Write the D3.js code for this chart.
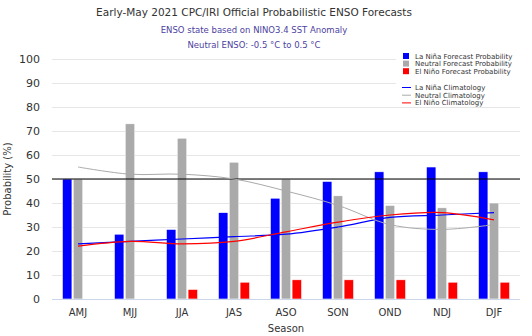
<!DOCTYPE html>
<html>
<head>
<meta charset="utf-8">
<script src="https://cdn.jsdelivr.net/npm/d3@7"></script>
<style>
  body { margin: 0; background: #fff; }
  text { font-family: "DejaVu Sans", sans-serif; }
</style>
</head>
<body>
<div id="chart"></div>
<script>
// Chart size
const width = 532;
const height = 336;
const margin = { top: 59, right: 12, bottom: 37, left: 52 };

// Data
const seasons = ["AMJ", "MJJ", "JJA", "JAS", "ASO", "SON", "OND", "NDJ", "DJF"];
const laNina = [50, 27, 29, 36, 42, 49, 53, 55, 53];
const neutral = [50, 73, 67, 57, 50, 43, 39, 38, 40];
const elNino = [0, 0, 4, 7, 8, 8, 8, 7, 7];
const laNinaClim = [23, 24, 25, 26, 27, 30, 34, 35, 36];
const neutralClim = [55, 52, 52, 50, 45, 39, 31, 29, 31];
const elNinoClim = [22, 24, 23, 24, 28, 32, 35, 36, 33];
const yTicks = [0, 10, 20, 30, 40, 50, 60, 70, 80, 90, 100];

const barSeries = [
    { name: "La Niña Forecast Probability", values: laNina, color: "#0000ff" },
    { name: "Neutral Forecast Probability", values: neutral, color: "#aaaaaa" },
    { name: "El Niño Forecast Probability", values: elNino, color: "#ff0000" }
];
const lineSeries = [
    { name: "La Niña Climatology", values: laNinaClim, color: "#0000ff" },
    { name: "Neutral Climatology", values: neutralClim, color: "#aaaaaa" },
    { name: "El Niño Climatology", values: elNinoClim, color: "#ff0000" }
];

const svg = d3.select("#chart").append("svg")
    .attr("width", width)
    .attr("height", height);

const x = d3.scaleBand()
    .domain(seasons)
    .range([margin.left, width - margin.right]);

const y = d3.scaleLinear()
    .domain([0, 100])
    .range([height - margin.bottom, margin.top]);

// Inner band for the three bars in each group
const xInner = d3.scaleBand()
    .domain(d3.range(barSeries.length))
    .range([0, x.bandwidth() * 0.6])
    .paddingInner(0.12);

// Horizontal grid lines
svg.append("g")
    .selectAll("line")
    .data(yTicks.filter(d => d > 0))
    .enter().append("line")
    .attr("x1", margin.left)
    .attr("x2", width - margin.right)
    .attr("y1", d => Math.round(y(d)) + 0.5)
    .attr("y2", d => Math.round(y(d)) + 0.5)
    .attr("stroke", "#e6e6e6")
    .attr("stroke-width", 1);

// Y axis labels
svg.append("g")
    .selectAll("text")
    .data(yTicks)
    .enter().append("text")
    .attr("x", margin.left - 12)
    .attr("y", d => y(d) + 4)
    .attr("text-anchor", "end")
    .attr("font-size", 11)
    .attr("fill", "#333")
    .text(d => d);

// Bars
const groups = svg.append("g")
    .selectAll("g")
    .data(barSeries)
    .enter().append("g")
    .attr("fill", d => d.color);

groups.selectAll("rect")
    .data((s, si) => s.values.map((v, i) => ({ v, season: seasons[i], si })))
    .enter().append("rect")
    .attr("x", d => x(d.season) + x.bandwidth() * 0.2 + xInner(d.si))
    .attr("width", xInner.bandwidth())
    .attr("y", d => y(d.v))
    .attr("height", d => y(0) - y(d.v))
    .attr("stroke", "#ffffff")
    .attr("stroke-width", 0.6);

// X axis baseline
svg.append("line")
    .attr("x1", margin.left)
    .attr("x2", width - margin.right)
    .attr("y1", y(0) + 0.5)
    .attr("y2", y(0) + 0.5)
    .attr("stroke", "#ccd6eb");

// 50% reference line
svg.append("line")
    .attr("x1", margin.left)
    .attr("x2", width - margin.right)
    .attr("y1", y(50))
    .attr("y2", y(50))
    .attr("stroke", "#000")
    .attr("stroke-width", 1.2);

// Climatology curves
const line = d3.line()
    .x((d, i) => x(seasons[i]) + x.bandwidth() / 2)
    .y(d => y(d))
    .curve(d3.curveCatmullRom.alpha(0.5));

svg.append("g")
    .selectAll("path")
    .data(lineSeries)
    .enter().append("path")
    .attr("d", d => line(d.values))
    .attr("fill", "none")
    .attr("stroke", d => d.color)
    .attr("stroke-width", d => d.color === "#aaaaaa" ? 1 : 1.2);

// X axis labels
svg.append("g")
    .selectAll("text")
    .data(seasons)
    .enter().append("text")
    .attr("x", d => x(d) + x.bandwidth() / 2)
    .attr("y", y(0) + 17)
    .attr("text-anchor", "middle")
    .attr("font-size", 10)
    .attr("fill", "#333")
    .text(d => d);

// Axis titles
svg.append("text")
    .attr("x", (margin.left + width - margin.right) / 2)
    .attr("y", height - 4)
    .attr("text-anchor", "middle")
    .attr("font-size", 10)
    .attr("fill", "#333")
    .text("Season");

svg.append("text")
    .attr("transform", `translate(11,${y(50)}) rotate(-90)`)
    .attr("text-anchor", "middle")
    .attr("font-size", 10)
    .attr("fill", "#333")
    .text("Probability (%)");

// Titles
svg.append("text")
    .attr("x", 254)
    .attr("y", 16)
    .attr("text-anchor", "middle")
    .attr("font-size", 10.5)
    .attr("fill", "#333")
    .text("Early-May 2021 CPC/IRI Official Probabilistic ENSO Forecasts");

svg.append("text")
    .attr("x", 254)
    .attr("y", 33)
    .attr("text-anchor", "middle")
    .attr("font-size", 8.5)
    .attr("fill", "#4d3fa0")
    .text("ENSO state based on NINO3.4 SST Anomaly");

svg.append("text")
    .attr("x", 254)
    .attr("y", 48)
    .attr("text-anchor", "middle")
    .attr("font-size", 8.5)
    .attr("fill", "#4d3fa0")
    .text("Neutral ENSO: -0.5 °C to 0.5 °C");

// Legend with white background
const legend = svg.append("g").attr("transform", "translate(396,50)");
legend.append("rect")
    .attr("width", 136)
    .attr("height", 56)
    .attr("fill", "#fff");

legend.selectAll(".sw")
    .data(barSeries)
    .enter().append("rect")
    .attr("x", 7)
    .attr("y", (d, i) => 3 + i * 7.6)
    .attr("width", 6)
    .attr("height", 6)
    .attr("fill", d => d.color);

legend.selectAll(".lt")
    .data(barSeries)
    .enter().append("text")
    .attr("x", 19)
    .attr("y", (d, i) => 8.5 + i * 7.6)
    .attr("font-size", 7)
    .attr("fill", "#333")
    .text(d => d.name);

legend.selectAll(".ln")
    .data(lineSeries)
    .enter().append("line")
    .attr("x1", 6)
    .attr("x2", 15)
    .attr("y1", (d, i) => 37.5 + i * 7.7)
    .attr("y2", (d, i) => 37.5 + i * 7.7)
    .attr("stroke", d => d.color)
    .attr("stroke-width", 1);

legend.selectAll(".ll")
    .data(lineSeries)
    .enter().append("text")
    .attr("x", 19)
    .attr("y", (d, i) => 40 + i * 7.7)
    .attr("font-size", 7)
    .attr("fill", "#333")
    .text(d => d.name);
</script>
</body>
</html>
